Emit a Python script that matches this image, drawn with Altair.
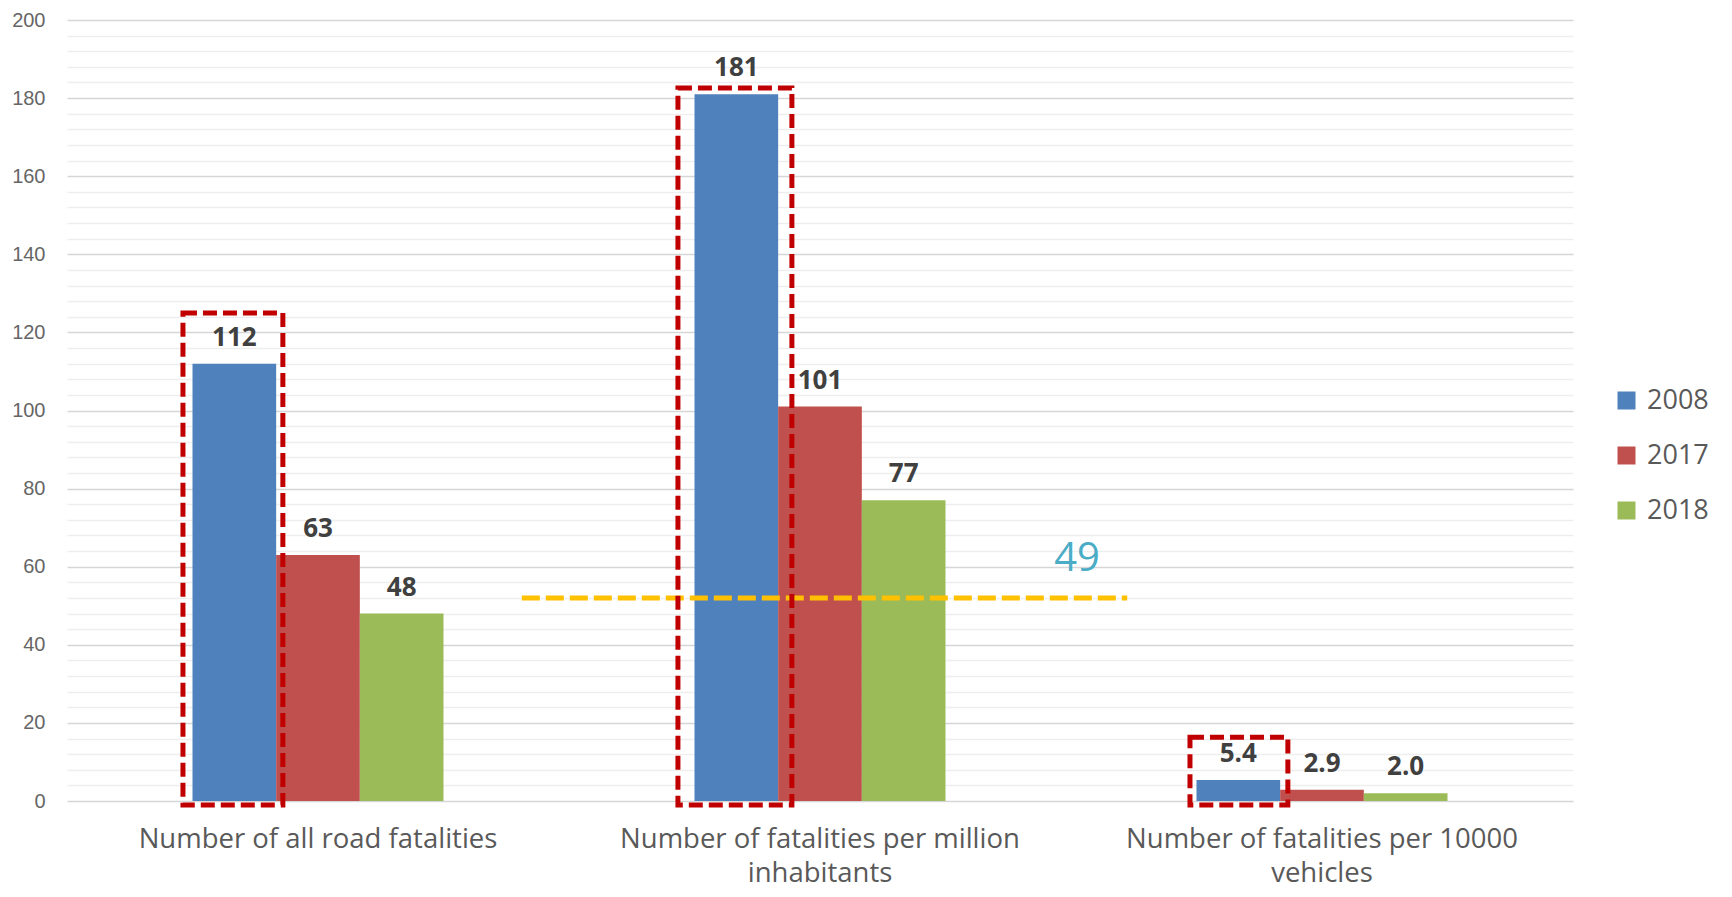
import json
import altair as alt
import pandas as pd

# ---------------- data ----------------
categories = [
    "Number of all road fatalities",
    "Number of fatalities per million inhabitants",
    "Number of fatalities per 10000 vehicles",
]
category_lines = [
    ["Number of all road fatalities"],
    ["Number of fatalities per million", "inhabitants"],
    ["Number of fatalities per 10000", "vehicles"],
]
years = ["2008", "2017", "2018"]
values_2008 = [112, 181, 5.4]
values_2017 = [63, 101, 2.9]
values_2018 = [48, 77, 2.0]
labels_2008 = ["112", "181", "5.4"]
labels_2017 = ["63", "101", "2.9"]
labels_2018 = ["48", "77", "2.0"]
colors = ["#4f81bd", "#c0504d", "#9bbb59"]

y_ticks = list(range(0, 201, 4))

# highlight boxes around the 2008 bars (category position 0..3, value extents)
box_x_start = [0.231, 1.217, 2.237]
box_x_end = [0.430, 1.444, 2.432]
box_top = [125, 182.6, 16.3]
box_bottom = [-1, -1, -1]

# dashed reference line and its label
ref_value = [52]
ref_x_start = [0.906]
ref_x_end = [2.112]
ref_label = ["49"]
ref_label_x = [2.012]
ref_label_y = [62]

# ---------------- tables ----------------
rows = []
for vals, labs, yr in [(values_2008, labels_2008, "2008"),
                       (values_2017, labels_2017, "2017"),
                       (values_2018, labels_2018, "2018")]:
    for c, v, l in zip(categories, vals, labs):
        rows.append({"category": c, "year": yr, "value": v, "label": l})
df = pd.DataFrame(rows)

boxes = pd.DataFrame({"x": box_x_start, "x2": box_x_end,
                      "y": box_bottom, "y2": box_top})
ref = pd.DataFrame({"x": ref_x_start, "x2": ref_x_end, "y": ref_value})
ref_txt = pd.DataFrame({"x": ref_label_x, "y": ref_label_y, "t": ref_label})

# label expression for multi-line category labels
expr = "''"
for c, lines in reversed(list(zip(categories, category_lines))):
    expr = f"datum.value === {json.dumps(c)} ? {json.dumps(lines)} : ({expr})"

FONT = "Open Sans"

x_band = alt.X(
    "category:N", sort=categories,
    scale=alt.Scale(paddingInner=0.5, paddingOuter=0.25),
    axis=alt.Axis(title=None, labelAngle=0, labelExpr=expr, labelFontSize=27.5,
                  labelColor="#595959", labelFont=FONT, labelLineHeight=34,
                  labelPadding=24, ticks=False, domain=False, grid=False,
                  labelLimit=700, labelOverlap=False),
)
y_q = alt.Y(
    "value:Q",
    scale=alt.Scale(domain=[0, 200], nice=False),
    axis=alt.Axis(
        title=None, values=y_ticks, tickCount=100,
        labelExpr="datum.value % 20 === 0 ? datum.label : ''",
        labelOverlap=False,
        labelFontSize=20, labelColor="#666666", labelFont="Liberation Sans",
        labelPadding=22, ticks=False, domain=False,
        gridColor={"condition": {"test": "datum.value % 20 === 0", "value": "#d6d6d6"},
                   "value": "#eeeeee"},
        gridWidth=1.6,
    ),
)

bars = alt.Chart(df).mark_bar().encode(
    x=x_band,
    xOffset=alt.XOffset("year:N", sort=years),
    y=y_q,
    color=alt.Color(
        "year:N", sort=years,
        scale=alt.Scale(domain=years, range=colors),
        legend=alt.Legend(title=None, orient="none", legendX=1546, legendY=367,
                          symbolType="square", symbolSize=324, symbolStrokeWidth=0,
                          labelFontSize=27, labelColor="#595959", labelFont=FONT,
                          rowPadding=27, labelOffset=7),
    ),
)

texts = alt.Chart(df).mark_text(
    fontSize=26, fontWeight="bold", color="#404040", font=FONT,
    baseline="alphabetic", dy=-18,
).encode(
    x=alt.X("category:N", sort=categories),
    xOffset=alt.XOffset("year:N", sort=years),
    y=alt.Y("value:Q"),
    text="label:N",
)

band_layer = alt.layer(bars, texts)

xq = alt.Scale(domain=[0, 3], nice=False, zero=False)

box_layer = alt.Chart(boxes).mark_rect(
    fill=None, fillOpacity=0, stroke="#c00000", strokeWidth=5, strokeDash=[14, 6],
).encode(
    x=alt.X("x:Q", scale=xq, axis=None),
    x2="x2:Q",
    y=alt.Y("y:Q"),
    y2="y2:Q",
)

ref_layer = alt.Chart(ref).mark_rule(
    color="#ffc000", strokeWidth=5, strokeDash=[18, 6],
).encode(
    x=alt.X("x:Q", scale=xq, axis=None),
    x2="x2:Q",
    y=alt.Y("y:Q"),
)

ref_text = alt.Chart(ref_txt).mark_text(
    fontSize=40, color="#4bacc6", font=FONT, baseline="middle",
).encode(
    x=alt.X("x:Q", scale=xq, axis=None),
    y=alt.Y("y:Q"),
    text="t:N",
)

overlay = alt.layer(ref_layer, box_layer, ref_text)

chart = alt.layer(band_layer, overlay).resolve_scale(x="independent").properties(
    width=1506, height=781,
    autosize=alt.AutoSizeParams(type="none"),
    padding={"left": 59, "top": 12, "right": 151, "bottom": 88},
    background="white",
).configure_view(stroke=None)

chart.save("out.html", embed_options={"renderer": "svg", "actions": False})
